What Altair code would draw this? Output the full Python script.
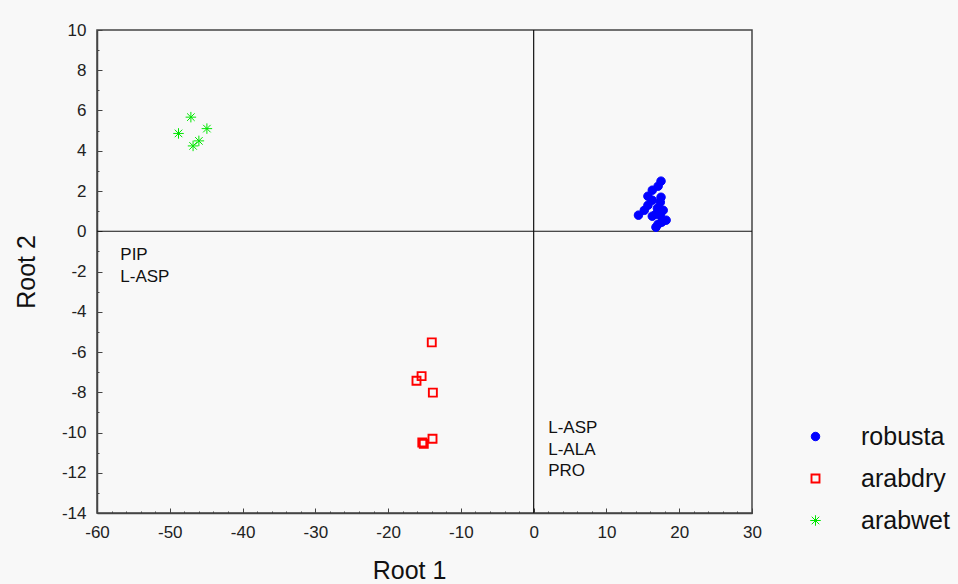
import altair as alt
import pandas as pd

# ---- data ----
rob_x = [15.7, 16.3, 17.1, 17.5, 15.2, 15.7, 16.3, 17.0, 17.4, 17.5, 16.8, 17.4, 17.8, 14.4, 16.3, 17.1, 16.8, 17.6, 18.2]
rob_y = [1.74, 2.04, 2.24, 2.49, 1.04, 1.29, 1.54, 1.14, 1.44, 1.69, 0.85, 0.80, 1.04, 0.80, 0.75, 0.35, 0.20, 0.45, 0.55]
dry_x = [-14.0, -15.4, -16.1, -13.85, -13.9, -15.1, -15.3]
dry_y = [-5.52, -7.2, -7.43, -8.02, -10.31, -10.56, -10.5]
wet_x = [-47.1, -48.8, -44.9, -46.0, -46.8]
wet_y = [5.67, 4.86, 5.1, 4.49, 4.24]

groups = ["robusta", "arabdry", "arabwet"]
colors = ["#0000ff", "#ff0000", "#00e600"]
fills = ["#0000ff", "transparent", "transparent"]
asterisk = "M-1,0L1,0M0,-1L0,1M-0.72,-0.72L0.72,0.72M-0.72,0.72L0.72,-0.72"
shapes = ["circle", "square", asterisk]
sizes = [72, 64, 110]
strokes = [1.0, 1.9, 1.0]

x_major = [-60, -50, -40, -30, -20, -10, 0, 10, 20, 30]
x_minor = list(range(-60, 31, 2))
y_major = [-14, -12, -10, -8, -6, -4, -2, 0, 2, 4, 6, 8, 10]
y_minor = list(range(-14, 11, 1))

ann_text = ["PIP", "L-ASP", "L-ASP", "L-ALA", "PRO"]
ann_x = [-56.8, -56.8, 2.0, 2.0, 2.0]
ann_y = [-1.2, -2.25, -9.8, -10.85, -11.9]

df = pd.DataFrame({
    "x": rob_x + dry_x + wet_x,
    "y": rob_y + dry_y + wet_y,
    "group": ["robusta"] * len(rob_x) + ["arabdry"] * len(dry_x) + ["arabwet"] * len(wet_x),
})
ann = pd.DataFrame({"t": ann_text, "x": ann_x, "y": ann_y})
zero = pd.DataFrame({"v": [0]})

FONT = "Liberation Sans"
xs = alt.Scale(domain=[-60, 30], nice=False, zero=False)
ys = alt.Scale(domain=[-14, 10], nice=False, zero=False)
LBL = "'' + datum.value"

main = alt.Chart(df).mark_point(filled=False, opacity=1).encode(
    x=alt.X("x:Q", scale=xs, axis=alt.Axis(
        values=x_major, ticks=False, title="Root 1", orient="bottom", labelExpr=LBL,
        labelFontSize=17, labelPadding=11, titleFontSize=25, titleFontWeight="normal",
        titlePadding=18, titleX=312, titleAlign="center",
        labelColor="#222", titleColor="#111", labelFont=FONT, titleFont=FONT,
        domainColor="#444", domainWidth=1.5, grid=False, labelFlush=False)),
    y=alt.Y("y:Q", scale=ys, axis=alt.Axis(
        values=y_major, ticks=False, title="Root 2", orient="left", labelExpr=LBL,
        labelFontSize=17, labelPadding=11, titleFontSize=25, titleFontWeight="normal",
        titlePadding=22, labelColor="#222", titleColor="#111", labelFont=FONT, titleFont=FONT,
        domainColor="#444", domainWidth=1.5, grid=False, labelFlush=False)),
    color=alt.Color("group:N", scale=alt.Scale(domain=groups, range=colors),
                    legend=alt.Legend(title=None)),
    fill=alt.Fill("group:N", scale=alt.Scale(domain=groups, range=fills),
                  legend=alt.Legend(title=None)),
    shape=alt.Shape("group:N", scale=alt.Scale(domain=groups, range=shapes),
                    legend=alt.Legend(title=None)),
    size=alt.Size("group:N", scale=alt.Scale(type="ordinal", domain=groups, range=sizes),
                  legend=alt.Legend(title=None)),
    strokeWidth=alt.StrokeWidth("group:N", scale=alt.Scale(type="ordinal", domain=groups, range=strokes),
                                legend=alt.Legend(title=None)),
)

def tick_layer(xv, yv, ln):
    return alt.Chart(zero).mark_point(opacity=0).encode(
        x=alt.X("v:Q", scale=xs, axis=alt.Axis(
            values=xv, labels=False, domain=False, grid=False, title=None,
            orient="bottom", offset=-ln, tickSize=ln, tickColor="#444", tickWidth=1)),
        y=alt.Y("v:Q", scale=ys, axis=alt.Axis(
            values=yv, labels=False, domain=False, grid=False, title=None,
            orient="left", offset=-ln, tickSize=ln, tickColor="#444", tickWidth=1)),
    )

vrule = alt.Chart(zero).mark_rule(color="#111", strokeWidth=1.2).encode(
    x=alt.X("v:Q", scale=xs, axis=None))
hrule = alt.Chart(zero).mark_rule(color="#111", strokeWidth=1.2).encode(
    y=alt.Y("v:Q", scale=ys, axis=None))

texts = alt.Chart(ann).mark_text(align="left", baseline="middle", fontSize=17,
                                 font=FONT, color="#111").encode(
    x=alt.X("x:Q", scale=xs, axis=None),
    y=alt.Y("y:Q", scale=ys, axis=None),
    text="t:N",
)

chart = alt.layer(
    tick_layer(x_minor, y_minor, 2),
    tick_layer(x_major, y_major, 5),
    vrule, hrule, texts, main,
).resolve_axis(x="independent", y="independent").properties(
    width=655, height=483,
    autosize=alt.AutoSizeParams(type="none"),
    padding={"left": 97, "top": 30, "right": 206, "bottom": 71},
    background="#f8f8f8",
).configure_view(
    stroke="#444", strokeWidth=1.5, fill="#f8f8f8"
).configure_legend(
    orient="none", legendX=706, legendY=394, labelFontSize=25, labelFont=FONT,
    labelColor="#111", rowPadding=16, labelOffset=33, padding=0,
)

chart.save("out.html", embed_options={"renderer": "svg", "actions": False})
